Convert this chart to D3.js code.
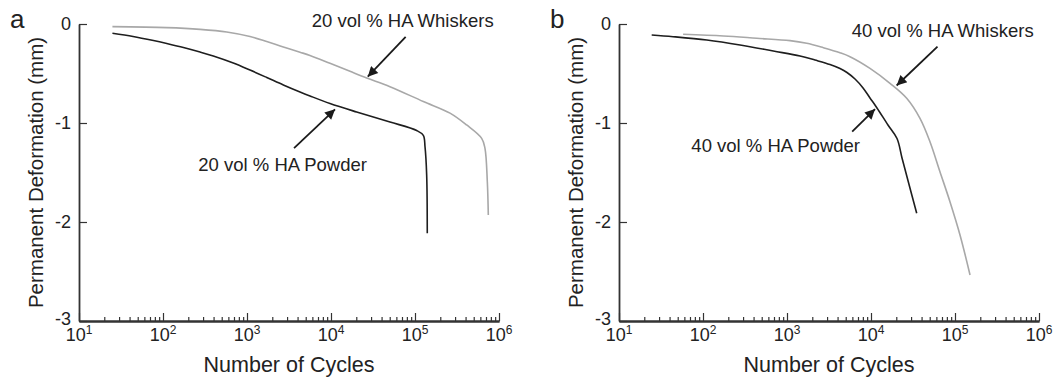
<!DOCTYPE html>
<html>
<head>
<meta charset="utf-8">
<script src="https://cdn.jsdelivr.net/npm/d3@7"></script>
<style>
  body { margin: 0; background: #fff; }
  svg text { font-family: "Liberation Sans", Arial, Helvetica, sans-serif; fill: #222; }
</style>
</head>
<body>
<div id="chart"></div>
<script>
// ── Data (cycles, permanent deformation in mm) ─────────────────────────────
const powder20 = [
  [25, -0.094], [44, -0.126], [77, -0.167], [111, -0.197], [175, -0.237],
  [276, -0.283], [397, -0.323], [687, -0.394], [1086, -0.465], [1718, -0.540],
  [2707, -0.616], [4276, -0.687], [5623, -0.727], [9727, -0.803], [20200, -0.889],
  [50350, -0.990], [104700, -1.076], [125600, -1.125], [131600, -1.240],
  [137700, -1.525], [140000, -2.114]
];
const whiskers20 = [
  [25, -0.027], [111, -0.037], [276, -0.054], [573, -0.080], [1086, -0.126],
  [1718, -0.177], [2707, -0.232], [4276, -0.285], [5623, -0.318], [9727, -0.397],
  [16830, -0.478], [26600, -0.545], [50350, -0.633], [125600, -0.783],
  [261000, -0.900], [412000, -1.020], [622000, -1.155], [681000, -1.256],
  [726000, -1.593], [746000, -1.929]
];
const powder40 = [
  [24.5, -0.111], [44, -0.128], [111, -0.162], [276, -0.212], [687, -0.273],
  [1429, -0.323], [2154, -0.364], [3250, -0.409], [4276, -0.450], [5176, -0.490],
  [6452, -0.556], [8040, -0.646], [9727, -0.747], [11780, -0.848], [15920, -1.020],
  [20400, -1.157], [23400, -1.354], [27800, -1.593], [35000, -1.912]
];
const whiskers40 = [
  [58, -0.104], [175, -0.121], [436, -0.144], [1086, -0.168], [1718, -0.195],
  [2707, -0.239], [4276, -0.290], [5623, -0.330], [9727, -0.448], [16830, -0.599],
  [26600, -0.750], [38300, -0.953], [50350, -1.189], [66200, -1.492],
  [87100, -1.795], [114700, -2.131], [151000, -2.535]
];

const yTicks = [0, -1, -2, -3];
const xExponents = [1, 2, 3, 4, 5, 6];

// annotation: label position + arrow tail/tip, all in data units
const panels = [
  {
    letter: "a",
    series: [
      { values: whiskers20, color: "#a8a8a8" },
      { values: powder20, color: "#1e1e1e" }
    ],
    notes: [
      { text: "20 vol % HA Whiskers", at: [5890, -0.03], anchor: "start",
        tail: [77400, -0.131], tip: [27400, -0.532] },
      { text: "20 vol % HA Powder", at: [26800, -1.485], anchor: "end",
        tail: [3630, -1.253], tip: [11170, -0.862] }
    ]
  },
  {
    letter: "b",
    series: [
      { values: whiskers40, color: "#a8a8a8" },
      { values: powder40, color: "#1e1e1e" }
    ],
    notes: [
      { text: "40 vol % HA Whiskers", at: [5890, -0.131], anchor: "start",
        tail: [61900, -0.229], tip: [20200, -0.621] },
      { text: "40 vol % HA Powder", at: [7400, -1.293], anchor: "end",
        tail: [5970, -1.088], tip: [11170, -0.859] }
    ]
  }
];

const W = 1058, H = 387;
const plotW = 420, plotH = 297, plotTop = 24;
const lefts = [79, 619];

const svg = d3.select("#chart").append("svg")
  .attr("width", W).attr("height", H);

svg.append("defs").append("marker")
  .attr("id", "head")
  .attr("viewBox", "0 0 10 10")
  .attr("refX", 10).attr("refY", 5)
  .attr("markerWidth", 13).attr("markerHeight", 10)
  .attr("markerUnits", "userSpaceOnUse")
  .attr("orient", "auto")
  .append("path")
    .attr("d", "M0,0 L10,5 L0,10 Z")
    .attr("fill", "#1a1a1a");

panels.forEach((p, i) => {
  const g = svg.append("g")
    .attr("transform", `translate(${lefts[i]},${plotTop})`);

  const x = d3.scaleLog().domain([10, 1e6]).range([0, plotW]);
  const y = d3.scaleLinear().domain([-3, 0]).range([plotH, 0]);

  // minor ticks 2..9 per decade
  const minor = [];
  xExponents.slice(0, -1).forEach(e => {
    for (let k = 2; k <= 9; k++) minor.push(k * Math.pow(10, e));
  });
  const major = xExponents.map(e => Math.pow(10, e));

  const xMinor = g.append("g")
    .attr("transform", `translate(0,${plotH})`)
    .call(d3.axisBottom(x).tickValues(minor).tickSize(-4)
      .tickSizeOuter(0).tickFormat(""));
  const xMajor = g.append("g")
    .attr("transform", `translate(0,${plotH})`)
    .call(d3.axisBottom(x).tickValues(major).tickSize(-8)
      .tickSizeOuter(0).tickFormat(""));

  const yAxisG = g.append("g")
    .call(d3.axisLeft(y).tickValues(yTicks).tickSize(-8)
      .tickSizeOuter(0).tickPadding(8));

  [xMinor, xMajor, yAxisG].forEach(a => {
    a.selectAll("path.domain").attr("stroke", "#333").attr("stroke-width", 1.8);
    a.selectAll(".tick line").attr("stroke", "#333").attr("stroke-width", 1.2);
  });
  yAxisG.selectAll("text")
    .style("font-size", "18px")
    .attr("fill", "#222")
    .text(d => d === 0 ? "0" : "-" + Math.abs(d));
  // nudge the bottom label up a little, clear of 10^1
  yAxisG.selectAll(".tick").filter(d => d === -3).select("text")
    .attr("dy", "0.2em");

  // x tick labels 10^n
  xExponents.forEach(e => {
    const t = g.append("text")
      .attr("x", x(Math.pow(10, e)))
      .attr("y", plotH + 20)
      .attr("text-anchor", "middle")
      .style("font-size", "18px");
    t.append("tspan").text("10");
    t.append("tspan").attr("dy", -7).style("font-size", "12px").text(e);
  });

  // axis titles
  g.append("text")
    .attr("x", plotW / 2).attr("y", plotH + 51)
    .attr("text-anchor", "middle")
    .style("font-size", "21.5px")
    .text("Number of Cycles");
  g.append("text")
    .attr("transform", "rotate(-90)")
    .attr("x", -plotH / 2).attr("y", -36)
    .attr("text-anchor", "middle")
    .style("font-size", "20.5px")
    .text("Permanent Deformation (mm)");

  // panel letter
  g.append("text")
    .attr("x", -69).attr("y", 4)
    .style("font-size", "26px")
    .text(p.letter);

  // curves
  const line = d3.line()
    .x(d => x(d[0])).y(d => y(d[1]))
    .curve(d3.curveCatmullRom.alpha(0.5));
  p.series.forEach(s => {
    g.append("path")
      .datum(s.values)
      .attr("fill", "none")
      .attr("stroke", s.color)
      .attr("stroke-width", 1.6)
      .attr("d", line);
  });

  // annotations
  p.notes.forEach(n => {
    g.append("text")
      .attr("x", x(n.at[0])).attr("y", y(n.at[1]))
      .attr("text-anchor", n.anchor)
      .style("font-size", "18.5px")
      .text(n.text);
    g.append("line")
      .attr("x1", x(n.tail[0])).attr("y1", y(n.tail[1]))
      .attr("x2", x(n.tip[0])).attr("y2", y(n.tip[1]))
      .attr("stroke", "#1a1a1a")
      .attr("stroke-width", 1.8)
      .attr("marker-end", "url(#head)");
  });
});
</script>
</body>
</html>
